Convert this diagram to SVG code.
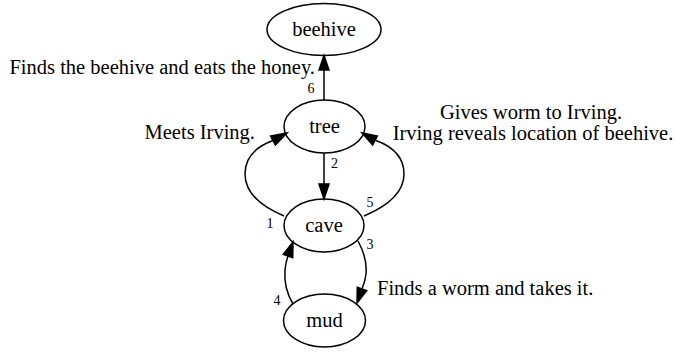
<svg xmlns="http://www.w3.org/2000/svg" width="675" height="353" viewBox="0 0 675 353">
<style>
.node ellipse{fill:none;stroke:#000;stroke-width:1.5}
.edges path,.edges line{fill:none;stroke:#000;stroke-width:1.5}
.edges polygon{fill:#000;stroke:#000;stroke-width:1.5}
text{font-family:"Liberation Serif","Times New Roman",serif;font-size:20.5px;fill:#000}
.n{font-size:14px}
</style>
<rect width="675" height="353" fill="#fff"/>
<g id="beehive" class="node"><ellipse cx="324" cy="29.5" rx="57" ry="26"/><text x="324" y="35.5" text-anchor="middle">beehive</text></g>
<g id="tree" class="node"><ellipse cx="324.5" cy="126.5" rx="40.5" ry="26.5"/><text x="324.5" y="132.5" text-anchor="middle">tree</text></g>
<g id="cave" class="node"><ellipse cx="324" cy="225.5" rx="40" ry="26.5"/><text x="324" y="231.5" text-anchor="middle">cave</text></g>
<g id="mud" class="node"><ellipse cx="324.5" cy="320.5" rx="41" ry="26.5"/><text x="324.5" y="326.5" text-anchor="middle">mud</text></g>
<g id="edges" class="edges">
<path d="M284,216 C265,208 245,195 245,174 C245,155 258,146 273,140.5"/>
<polygon points="287,133 275.35,144.9 270.65,136.1"/>
<line x1="324" y1="153" x2="324" y2="184"/>
<polygon points="324,199 319,184 329,184"/>
<path d="M358,241 C364,252 367,264 366,274 C365.5,279 364,284 362,289"/>
<polygon points="357,303 366.7,290.7 357.3,287.3"/>
<path d="M293,304 C287,294 284,282 285,270 C285.5,264 286.5,260 288,256"/>
<polygon points="293,242 292.7,257.7 283.3,254.3"/>
<path d="M364,216 C383,208 404,195 404,174 C404,155 391,146 376,140.5"/>
<polygon points="362,133 372.65,144.9 377.35,136.1"/>
<line x1="324" y1="100" x2="324" y2="70"/>
<polygon points="324,55.5 319,70 329,70"/>
<text x="255" y="139" text-anchor="end">Meets Irving.</text>
<text class="n" x="270" y="228" text-anchor="middle">1</text>
<text class="n" x="334.5" y="168" text-anchor="middle">2</text>
<text class="n" x="370" y="249" text-anchor="middle">3</text>
<text x="377" y="295">Finds a worm and takes it.</text>
<text class="n" x="277" y="305" text-anchor="middle">4</text>
<text class="n" x="370" y="207" text-anchor="middle">5</text>
<text x="531" y="119" text-anchor="middle">Gives worm to Irving.</text>
<text x="533" y="140" text-anchor="middle">Irving reveals location of beehive.</text>
<text class="n" x="311" y="93" text-anchor="middle">6</text>
<text x="315" y="74" text-anchor="end">Finds the beehive and eats the honey.</text>
</g>
</svg>
